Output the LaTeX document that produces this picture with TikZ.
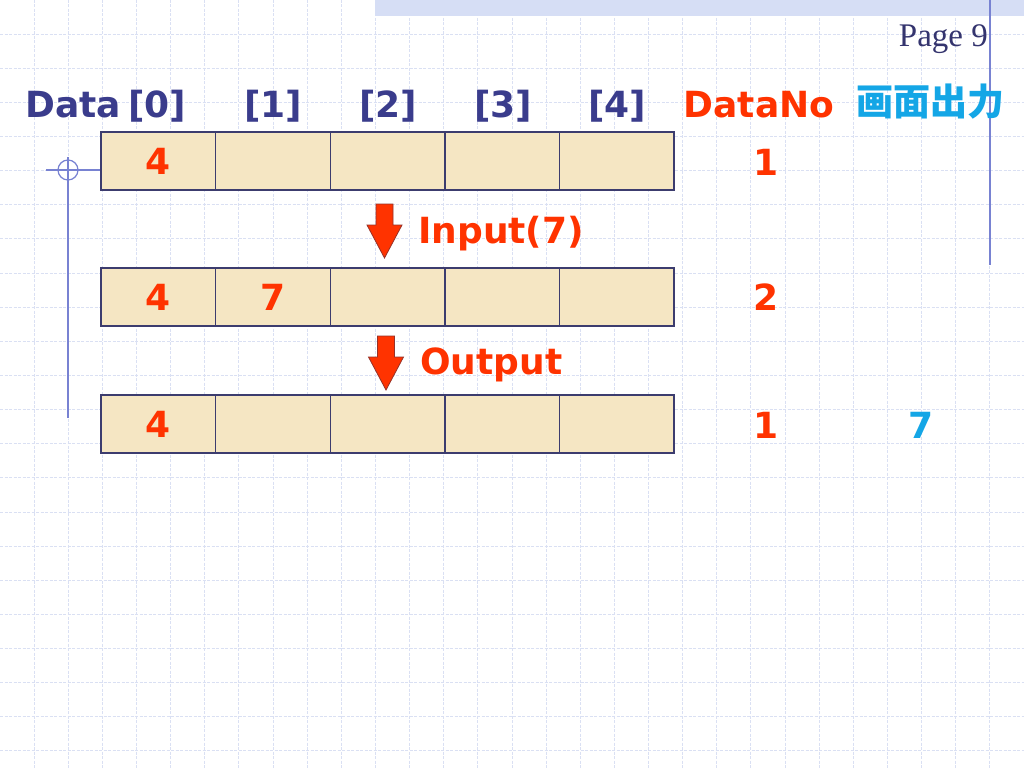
\documentclass[tikz,border=0pt]{standalone}
\usepackage{fontspec}
\setmainfont{Liberation Serif}
\newfontfamily\vb{DejaVu Sans}
\newfontfamily\cjk{Noto Sans CJK SC}
\definecolor{navy}{RGB}{58,60,140}
\definecolor{pagec}{RGB}{52,52,110}
\definecolor{redo}{RGB}{255,51,0}
\definecolor{arrowedge}{RGB}{150,50,40}
\definecolor{cyanx}{RGB}{20,166,230}
\definecolor{cellfill}{RGB}{245,230,195}
\definecolor{cellline}{RGB}{60,60,110}
\definecolor{gridc}{RGB}{218,224,243}
\definecolor{deco}{RGB}{120,130,210}
\definecolor{band}{RGB}{214,222,245}
\tikzset{
  gridline/.style={draw=gridc, line width=0.9pt, dash pattern=on 3pt off 1.5pt},
  decoline/.style={draw=deco, line width=1.2pt},
  cell/.style={fill=cellfill, minimum width=114.6pt, minimum height=58pt, inner sep=0pt, outer sep=0pt,
    font=\vb\bfseries\fontsize{36}{40}\selectfont, text=redo},
  cellborder/.style={draw=cellline, line width=1.4pt},
  hdr/.style={font=\vb\bfseries\fontsize{36}{40}\selectfont, text=navy, inner sep=0pt},
  rednum/.style={font=\vb\bfseries\fontsize{36}{40}\selectfont, text=redo, inner sep=0pt},
  cyannum/.style={font=\vb\bfseries\fontsize{36}{40}\selectfont, text=cyanx, inner sep=0pt},
  cjklabel/.style={font=\cjk\bfseries\fontsize{37}{40}\selectfont, text=cyanx, inner sep=0pt},
  pagelabel/.style={font=\fontsize{33}{36}\selectfont, text=pagec, inner sep=0pt},
  downarrow/.style={fill=redo, draw=arrowedge, line width=0.8pt, line join=miter}
}
\begin{document}
\begin{tikzpicture}[x=1pt,y=-1pt]
\useasboundingbox (0,0) rectangle (1024,768);
\fill[white] (0,0) rectangle (1024,768);
% background grid
\foreach \i in {1,...,29} \draw[gridline] ({\i*34.133},0) -- ({\i*34.133},768);
\foreach \j in {1,...,22} \draw[gridline] (0,{\j*34.133}) -- (1024,{\j*34.133});
% top band
\fill[band] (375,0) rectangle (1024,16);
% decorative lines
\draw[decoline] (990,0) -- (990,265);
\draw[decoline] (68,157) -- (68,418);
\draw[decoline] (46,170) -- (101,170);
\draw[decoline] (68,170) circle (10);
% page label
\node[pagelabel, anchor=base east] (page) at (988,47) {Page 9};
% headers
\node[hdr, anchor=base] (hdata) at (73,117) {Data};
\node[hdr, anchor=base] (h0) at (157,117) {[0]};
\node[hdr, anchor=base] (h1) at (273,117) {[1]};
\node[hdr, anchor=base] (h2) at (388,117) {[2]};
\node[hdr, anchor=base] (h3) at (503,117) {[3]};
\node[hdr, anchor=base] (h4) at (617,117) {[4]};
\node[hdr, anchor=base, text=redo] (hno) at (759,117) {DataNo};
\node[cjklabel, anchor=base] (hout) at (930,115) {画面出力};
% row 1
\node[cell] (c10) at (158.3,161) {4};
\node[cell] (c11) at (272.9,161) {};
\node[cell] (c12) at (387.5,161) {};
\node[cell] (c13) at (502.1,161) {};
\node[cell] (c14) at (616.7,161) {};
\node[rednum] (n1) at (766,162) {1};
% arrow 1 and label
\filldraw[downarrow] (376,204) -- (393,204) -- (393,225) -- (402,225) -- (384.5,258) -- (367,225) -- (376,225) -- cycle;
\node[rednum, anchor=base west] (lin) at (418,243) {Input(7)};
% row 2
\node[cell] (c20) at (158.3,297) {4};
\node[cell] (c21) at (272.9,297) {7};
\node[cell] (c22) at (387.5,297) {};
\node[cell] (c23) at (502.1,297) {};
\node[cell] (c24) at (616.7,297) {};
\node[rednum] (n2) at (766,297) {2};
% arrow 2 and label
\filldraw[downarrow] (377.5,336) -- (394.5,336) -- (394.5,357) -- (403.5,357) -- (386,390) -- (368.5,357) -- (377.5,357) -- cycle;
\node[rednum, anchor=base west] (lout) at (420,374) {Output};
% row 3
\node[cell] (c30) at (158.3,424) {4};
\node[cell] (c31) at (272.9,424) {};
\node[cell] (c32) at (387.5,424) {};
\node[cell] (c33) at (502.1,424) {};
\node[cell] (c34) at (616.7,424) {};
\node[rednum] (n3) at (766,425) {1};
\node[cyannum] (o3) at (921,425) {7};
% cell borders drawn on top so shared edges keep full width
\foreach \r in {1,2,3}
  \foreach \c in {0,...,4}
    \draw[cellborder] (c\r\c.north west) rectangle (c\r\c.south east);
\end{tikzpicture}
\end{document}
